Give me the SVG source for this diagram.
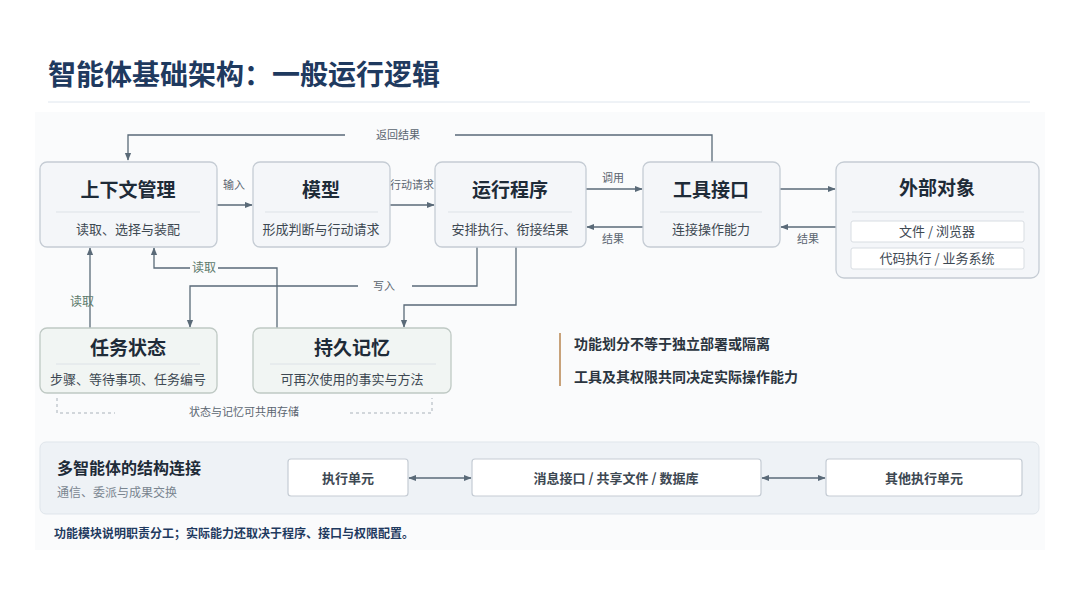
<svg xmlns="http://www.w3.org/2000/svg" width="1080" height="608" viewBox="0 0 1080 608">
<defs>
<style>
text{font-family:"Noto Sans CJK SC","Liberation Sans",sans-serif}
.box{fill:#f4f6f9;stroke:#c5ccd4;stroke-width:1.3}
.gbox{fill:#f1f5f3;stroke:#bfc9c4;stroke-width:1.3}
.t{font-size:19px;font-weight:700;fill:#1e2b38;text-anchor:middle}
.s{font-size:13px;fill:#3d4852;text-anchor:middle}
.sep{stroke:#dde2e7;stroke-width:1}
.ln{fill:none;stroke:#5a6a78;stroke-width:1.3}
.lab{font-size:11px;fill:#5a6570;text-anchor:middle}
.glab{font-size:12px;fill:#5d7a6c;text-anchor:middle}
.ib{fill:#fff;stroke:#d8dde2}
.wb{fill:#fff;stroke:#c5ccd4;stroke-width:1.2}
</style>
<marker id="a" viewBox="0 0 10 10" refX="9" refY="5" markerWidth="6" markerHeight="6" orient="auto-start-reverse"><path d="M0,1L10,5L0,9z" fill="#5a6a78"/></marker>
</defs>
<rect width="1080" height="608" fill="#fff"/>
<text x="48" y="85" font-size="28" font-weight="700" fill="#1f3a5f">智能体基础架构：一般运行逻辑</text>
<line x1="48" y1="102" x2="1030" y2="102" stroke="#dfe6ee"/>
<rect x="35" y="112" width="1010" height="438" fill="#fafbfc"/>
<g id="multi"><rect x="40" y="442" width="999" height="72" rx="6" fill="#eef2f6" stroke="#dfe5eb"/>
<text x="57" y="474" font-size="16" font-weight="700" fill="#1e2b38">多智能体的结构连接</text>
<text x="57" y="497" font-size="12" fill="#7a8590">通信、委派与成果交换</text></g>
<g id="connectors">
<path class="ln" d="M712,162V135H455M345,135H128V160" marker-end="url(#a)"/>
<text class="lab" x="398" y="139" font-size="12">返回结果</text>
<line class="ln" x1="217" y1="205" x2="252" y2="205" marker-end="url(#a)"/>
<text class="lab" x="234" y="189">输入</text>
<line class="ln" x1="390" y1="205" x2="434" y2="205" marker-end="url(#a)"/>
<text class="lab" x="412" y="189" font-size="10">行动请求</text>
<line class="ln" x1="586" y1="189" x2="642" y2="189" marker-end="url(#a)"/>
<text class="lab" x="613" y="182">调用</text>
<line class="ln" x1="643" y1="227" x2="587" y2="227" marker-end="url(#a)"/>
<text class="lab" x="613" y="243">结果</text>
<line class="ln" x1="780" y1="189" x2="835" y2="189" marker-end="url(#a)"/>
<line class="ln" x1="836" y1="227" x2="781" y2="227" marker-end="url(#a)"/>
<text class="lab" x="808" y="243">结果</text>
<line class="ln" x1="90" y1="328" x2="90" y2="248" marker-end="url(#a)"/>
<text class="glab" x="82" y="306">读取</text>
<path class="ln" d="M277,328V268H218M190,268H154V248" marker-end="url(#a)"/>
<text class="glab" x="204" y="272">读取</text>
<path class="ln" d="M477,247V286H412M358,286H190V327" marker-end="url(#a)"/>
<text class="lab" x="384" y="290" font-size="12">写入</text>
<path class="ln" d="M516,247V305H404V327" marker-end="url(#a)"/>
<path d="M57,398V413H115M350,413H432V398" fill="none" stroke="#a9b2ba" stroke-dasharray="3,3"/>
<text class="lab" x="244" y="416" font-size="12">状态与记忆可共用存储</text>
<line class="ln" x1="409" y1="478" x2="471" y2="478" marker-start="url(#a)" marker-end="url(#a)"/>
<line class="ln" x1="762" y1="478" x2="825" y2="478" marker-start="url(#a)" marker-end="url(#a)"/>
</g>
<g id="ctx"><rect class="box" x="40" y="162" width="177" height="85" rx="7"/><text class="t" x="128" y="197">上下文管理</text><line class="sep" x1="56" y1="212" x2="200" y2="212"/><text class="s" x="128" y="234">读取、选择与装配</text></g>
<g id="model"><rect class="box" x="253" y="162" width="137" height="85" rx="7"/><text class="t" x="321" y="197">模型</text><line class="sep" x1="265" y1="212" x2="378" y2="212"/><text class="s" x="321" y="234">形成判断与行动请求</text></g>
<g id="runtime"><rect class="box" x="435" y="162" width="151" height="85" rx="7"/><text class="t" x="510" y="197">运行程序</text><line class="sep" x1="448" y1="212" x2="572" y2="212"/><text class="s" x="510" y="234">安排执行、衔接结果</text></g>
<g id="tools"><rect class="box" x="643" y="162" width="137" height="85" rx="7"/><text class="t" x="711" y="197">工具接口</text><line class="sep" x1="660" y1="212" x2="762" y2="212"/><text class="s" x="711" y="234">连接操作能力</text></g>
<g id="ext"><rect class="box" x="836" y="162" width="203" height="116" rx="8"/><text class="t" x="937" y="195">外部对象</text><line class="sep" x1="852" y1="212" x2="1024" y2="212"/>
<rect class="ib" x="851" y="221" width="173" height="21" rx="2"/><text class="s" x="937" y="236">文件 / 浏览器</text>
<rect class="ib" x="851" y="248" width="173" height="21" rx="2"/><text class="s" x="937" y="263">代码执行 / 业务系统</text></g>
<g id="task"><rect class="gbox" x="40" y="328" width="177" height="65" rx="7"/><text class="t" x="128" y="355" font-size="18">任务状态</text><line class="sep" x1="56" y1="364" x2="200" y2="364"/><text class="s" x="128" y="384">步骤、等待事项、任务编号</text></g>
<g id="memory"><rect class="gbox" x="253" y="328" width="198" height="65" rx="7"/><text class="t" x="352" y="355" font-size="18">持久记忆</text><line class="sep" x1="270" y1="364" x2="436" y2="364"/><text class="s" x="352" y="384">可再次使用的事实与方法</text></g>
<g id="notes"><line x1="560" y1="333" x2="560" y2="386" stroke="#c8a27a" stroke-width="2"/>
<text x="574" y="349" font-size="14" font-weight="700" fill="#2b3540">功能划分不等于独立部署或隔离</text>
<text x="574" y="382" font-size="14" font-weight="700" fill="#2b3540">工具及其权限共同决定实际操作能力</text></g>
<g id="u1"><rect class="wb" x="288" y="459" width="120" height="37" rx="3"/><text class="s" x="348" y="483" font-size="14" font-weight="700" fill="#1e2b38">执行单元</text></g>
<g id="u2"><rect class="wb" x="472" y="459" width="289" height="37" rx="3"/><text class="s" x="616" y="483" font-size="14" font-weight="700" fill="#1e2b38">消息接口 / 共享文件 / 数据库</text></g>
<g id="u3"><rect class="wb" x="826" y="459" width="196" height="37" rx="3"/><text class="s" x="924" y="483" font-size="14" font-weight="700" fill="#1e2b38">其他执行单元</text></g>
<text x="54" y="538" font-size="12" font-weight="700" fill="#1f3a5f">功能模块说明职责分工；实际能力还取决于程序、接口与权限配置。</text>
</svg>
